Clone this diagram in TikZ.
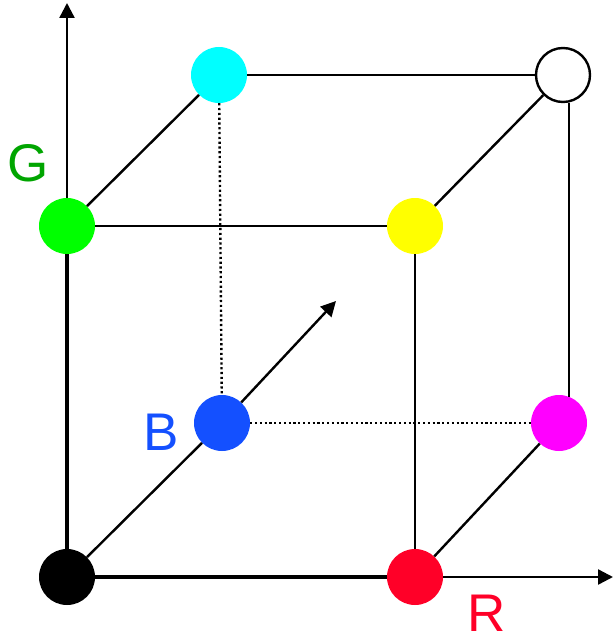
\documentclass[tikz,border=0pt]{standalone}
\usepackage{fontspec}
\setmainfont{Liberation Sans}
\usetikzlibrary{arrows.meta}
\definecolor{cRed}{RGB}{255,0,40}
\definecolor{cGreen}{RGB}{0,255,0}
\definecolor{cBlue}{RGB}{20,80,255}
\definecolor{cYellow}{RGB}{255,255,0}
\definecolor{cMagenta}{RGB}{255,0,255}
\definecolor{cCyan}{RGB}{0,255,255}
\definecolor{cGreenText}{RGB}{0,165,0}
\begin{document}
\begin{tikzpicture}[x=1pt,y=-1pt,
  dot/.style={circle, minimum size=56pt, inner sep=0pt},
  edge/.style={line width=2.4pt},
  hidden/.style={line width=2.4pt, dash pattern=on 2.2pt off 2.6pt},
  axis/.style={line width=2.4pt, -{Triangle[length=15pt,width=15pt]}},
  lbl/.style={inner sep=0pt, font=\fontsize{53}{53}\selectfont}]
\useasboundingbox (0,0) rectangle (613,642);

% corners of the colour cube
\node[dot, fill=black]    (k) at (67,577) {};
\node[dot, fill=cRed]     (r) at (415,577) {};
\node[dot, fill=cGreen]   (g) at (67,226) {};
\node[dot, fill=cYellow]  (y) at (415,226) {};
\node[dot, fill=cBlue]    (b) at (222,423) {};
\node[dot, fill=cMagenta] (m) at (559,423) {};
\node[dot, fill=cCyan]    (c) at (219,75) {};
\node[dot, fill=white, draw=black, line width=2.4pt, minimum size=54pt] (w) at (563,75) {};

% axis tips
\coordinate (gtip) at (67,3);
\coordinate (rtip) at (613,577);
\coordinate (btip) at (336,301);

% axes
\draw[line width=3.4pt] (k) -- (g);
\draw[axis] (g) -- (gtip);
\draw[line width=3.4pt] (k) -- (r);
\draw[axis] (r) -- (rtip);
\draw[edge] (k) -- (b);
\draw[axis] (b) -- (btip);

% visible edges
\draw[edge] (g) -- (y);
\draw[edge] (g) -- (c);
\draw[edge] (c) -- (w);
\draw[edge] (y) -- (w);
\draw[edge] (r) -- (y);
\draw[edge] (r) -- (m);
\draw[edge] (w.-78) -- (w.-78 |- m.70);

% hidden edges
\draw[hidden] (c) -- (b);
\draw[hidden] (b) -- (m);

% axis labels
\node[lbl, text=cGreenText] (lg) at (28,163) {G};
\node[lbl, text=cBlue]      (lb) at (161,432) {B};
\node[lbl, text=cRed]       (lr) at (487,613) {R};
\end{tikzpicture}
\end{document}
